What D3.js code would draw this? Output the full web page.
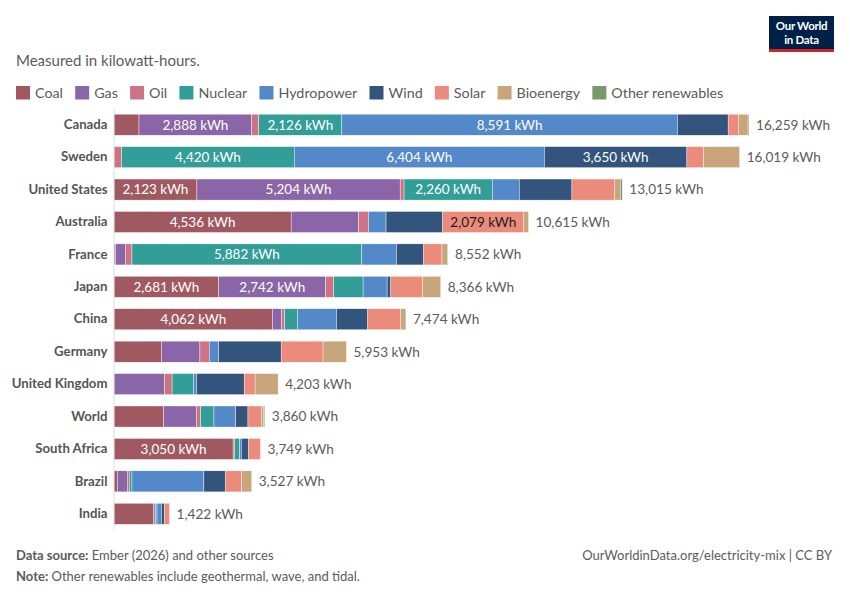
<!DOCTYPE html>
<html>
<head>
<meta charset="utf-8">
<script src="https://cdn.jsdelivr.net/npm/d3@7"></script>
<style>
  body { margin: 0; background: #fff; }
  svg text { font-family: Lato, "Noto Sans", sans-serif; }
</style>
</head>
<body>
<svg id="chart" width="850" height="600"></svg>
<script>
// --- Data (kWh per person) ---
const countries = ["Canada", "Sweden", "United States", "Australia", "France", "Japan", "China",
  "Germany", "United Kingdom", "World", "South Africa", "Brazil", "India"];
const sources = ["Coal", "Gas", "Oil", "Nuclear", "Hydropower", "Wind", "Solar", "Bioenergy", "Other renewables"];
const coal = [640, 0, 2123, 4536, 40, 2681, 4062, 1220, 0, 1275, 3050, 85, 1012];
const gas = [2888, 0, 5204, 1730, 250, 2742, 230, 980, 1298, 835, 0, 255, 40];
const oil = [180, 195, 100, 250, 170, 205, 75, 240, 190, 110, 35, 50, 10];
const nuclear = [2126, 4420, 2260, 0, 5882, 750, 330, 0, 550, 340, 135, 70, 40];
const hydropower = [8591, 6404, 690, 450, 890, 615, 1000, 240, 75, 555, 40, 1842, 110];
const wind = [1300, 3650, 1348, 1450, 690, 95, 800, 1600, 1220, 315, 180, 545, 75];
const solar = [260, 430, 1100, 2079, 475, 820, 842, 1073, 280, 340, 309, 425, 135];
const bioenergy = [250, 920, 140, 120, 140, 458, 135, 600, 590, 60, 0, 255, 0];
const otherRenewables = [24, 0, 50, 0, 15, 0, 0, 0, 0, 30, 0, 0, 0];
const totals = [16259, 16019, 13015, 10615, 8552, 8366, 7474, 5953, 4203, 3860, 3749, 3527, 1422];

const colors = ["#883039", "#6D3E91", "#C15065", "#00847E", "#286BBB", "#00295B", "#E56E5A", "#BC8E5A", "#578145"];
const darkLabel = new Set(["Solar", "Bioenergy"]);

const columns = [coal, gas, oil, nuclear, hydropower, wind, solar, bioenergy, otherRenewables];
const table = countries.map((c, i) => {
  const row = { country: c, total: totals[i] };
  sources.forEach((s, j) => { row[s] = columns[j][i]; });
  return row;
});

const svg = d3.select("#chart");
const fmt = d3.format(",");
const color = d3.scaleOrdinal().domain(sources).range(colors);

// --- Logo ---
const logo = svg.append("g");
logo.append("rect").attr("x", 769).attr("y", 16).attr("width", 65).attr("height", 36).attr("fill", "#002147");
logo.append("rect").attr("x", 769).attr("y", 49).attr("width", 65).attr("height", 3).attr("fill", "#ce261e");
logo.append("text").attr("x", 801.5).attr("y", 30).attr("text-anchor", "middle")
  .attr("font-size", 11.5).attr("font-weight", 700).attr("fill", "#fff").attr("letter-spacing", -0.3).text("Our World");
logo.append("text").attr("x", 801.5).attr("y", 43.5).attr("text-anchor", "middle")
  .attr("font-size", 11.5).attr("font-weight", 700).attr("fill", "#fff").attr("letter-spacing", -0.3).text("in Data");

// --- Subtitle ---
svg.append("text").attr("x", 16).attr("y", 66).attr("font-size", 15).attr("fill", "#5b5b5b")
  .text("Measured in kilowatt-hours.");

// --- Legend ---
const legend = svg.append("g");
let lx = 16;
sources.forEach(s => {
  legend.append("rect").attr("x", lx).attr("y", 86).attr("width", 14).attr("height", 13.5)
    .attr("fill", color(s)).attr("fill-opacity", 0.8);
  const t = legend.append("text").attr("x", lx + 19).attr("y", 97.5).attr("font-size", 14.3)
    .attr("fill", "#5b5b5b").text(s);
  lx += 19 + t.node().getComputedTextLength() + 12.2;
});

// --- Scales ---
const x = d3.scaleLinear().domain([0, d3.max(totals)]).range([114, 749]);
const y = d3.scaleBand().domain(countries).range([108.5, 530]).paddingInner(0.35).paddingOuter(0.175);

const series = d3.stack().keys(sources)(table);

const bars = svg.append("g");
series.forEach(s => {
  bars.append("g").selectAll("rect")
    .data(s)
    .join("rect")
    .attr("x", d => x(d[0]))
    .attr("y", d => y(d.data.country))
    .attr("width", d => Math.max(0, x(d[1]) - x(d[0])))
    .attr("height", y.bandwidth())
    .attr("fill", color(s.key))
    .attr("fill-opacity", 0.8)
    .attr("stroke", "#fff")
    .attr("stroke-width", 0.4);

  // value labels for wide segments
  bars.append("g").selectAll("text")
    .data(s.filter(d => d[1] - d[0] >= 2000))
    .join("text")
    .attr("x", d => (x(d[0]) + x(d[1])) / 2)
    .attr("y", d => y(d.data.country) + y.bandwidth() / 2)
    .attr("dy", "0.36em")
    .attr("text-anchor", "middle")
    .attr("font-size", 13.5)
    .attr("fill", darkLabel.has(s.key) ? "#1d1d1d" : "#fff")
    .text(d => fmt(d[1] - d[0]) + " kWh");
});

// --- Total labels ---
svg.append("g").selectAll("text")
  .data(table)
  .join("text")
  .attr("x", d => x(d3.sum(sources, s => d[s])) + 7)
  .attr("y", d => y(d.country) + y.bandwidth() / 2)
  .attr("dy", "0.36em")
  .attr("font-size", 13.6)
  .attr("fill", "#5b5b5b")
  .text(d => fmt(d.total) + " kWh");

// --- Country axis ---
const axis = svg.append("g")
  .attr("transform", "translate(113.5,0)")
  .call(d3.axisLeft(y).tickSize(0).tickPadding(6));
axis.select(".domain").attr("stroke", "#ddd");
axis.selectAll("text")
  .attr("font-family", "Lato, 'Noto Sans', sans-serif")
  .attr("font-size", 13.2)
  .attr("font-weight", 700)
  .attr("fill", "#555");

// --- Footer ---
const f1 = svg.append("text").attr("x", 16).attr("y", 560).attr("font-size", 13).attr("fill", "#5b5b5b");
f1.append("tspan").attr("font-weight", 700).text("Data source:");
f1.append("tspan").text(" Ember (2026) and other sources");
const f2 = svg.append("text").attr("x", 16).attr("y", 581).attr("font-size", 13).attr("fill", "#5b5b5b");
f2.append("tspan").attr("font-weight", 700).text("Note:");
f2.append("tspan").text(" Other renewables include geothermal, wave, and tidal.");
svg.append("text").attr("x", 832).attr("y", 560).attr("text-anchor", "end").attr("font-size", 13)
  .attr("fill", "#5b5b5b").text("OurWorldinData.org/electricity-mix | CC BY");
</script>
</body>
</html>
